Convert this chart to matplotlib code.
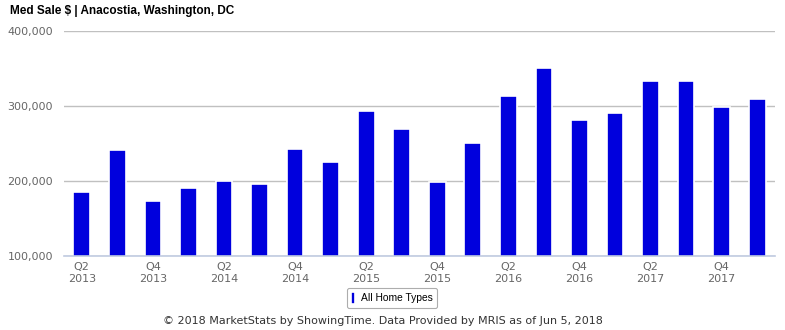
import matplotlib.pyplot as plt

# Quarterly median sale price, Anacostia
quarters = ['Q2', 'Q3', 'Q4', 'Q1'] * 5
years = [2013, 2013, 2013, 2014, 2014, 2014, 2014, 2015, 2015, 2015,
         2015, 2016, 2016, 2016, 2016, 2017, 2017, 2017, 2017, 2018]
med_sale = [185000, 241000, 173000, 190500, 200000, 196000, 242500, 225000, 293000, 269000,
            198500, 250500, 313000, 350500, 281000, 290500, 333000, 333000, 298500, 309000]

fig = plt.figure(figsize=(7.85, 3.3), dpi=100)
ax = fig.add_axes([64 / 785, 74 / 330, 711 / 785, 225 / 330])

x = list(range(len(med_sale)))
bars = ax.bar(x, med_sale, width=0.47, color='#0000dd', edgecolor='white',
              linewidth=1.2, zorder=3, label='All Home Types')

ax.set_xlim(-0.5, len(med_sale) - 0.5)
ax.set_ylim(100000, 400000)
ax.set_yticks([100000, 200000, 300000, 400000])
ax.set_yticklabels([f'{v:,}' for v in [100000, 200000, 300000, 400000]])
ax.yaxis.grid(True, color='#c0c0c0', linewidth=1.0, zorder=0)

tick_pos = x[::2]
ax.set_xticks(tick_pos)
ax.set_xticklabels([f'{quarters[i]}\n{years[i]}' for i in tick_pos], linespacing=1.3)
ax.tick_params(axis='both', length=0, colors='#666666', labelsize=8)
ax.tick_params(axis='x', pad=4)
ax.tick_params(axis='y', pad=8)

for side in ['top', 'right', 'left']:
    ax.spines[side].set_visible(False)
ax.spines['bottom'].set_color('#c0cbe0')
ax.spines['bottom'].set_linewidth(1.2)
ax.spines['bottom'].set_zorder(4)

fig.text(10 / 785, 1 - 11 / 330, 'Med Sale $ | Anacostia, Washington, DC',
         fontfamily='Liberation Sans', fontweight='bold', fontsize=8.5, va='center')

leg = fig.legend(handles=[bars], loc='center', bbox_to_anchor=(392 / 785, 1 - 298 / 330),
                 prop={'family': 'Liberation Sans', 'size': 7.4}, frameon=True, fancybox=True,
                 edgecolor='#999999', handlelength=0.35, handleheight=1.3, handletextpad=0.6,
                 borderpad=0.45, borderaxespad=0.0)
leg.get_frame().set_linewidth(0.8)

fig.text(383 / 785, 1 - 321 / 330,
         '\u00a9 2018 MarketStats by ShowingTime. Data Provided by MRIS as of Jun 5, 2018',
         ha='center', va='center', fontsize=8, color='#333333')

fig.savefig('out.png', dpi=100)
